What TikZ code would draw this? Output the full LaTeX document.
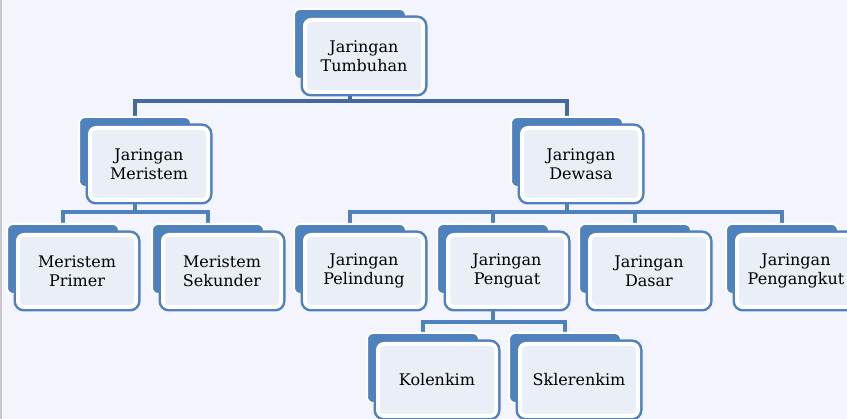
\documentclass[tikz,border=0pt]{standalone}
\usepackage{fontspec}
\setmainfont{DejaVu Serif}
\pgfdeclarelayer{background}
\pgfsetlayers{background,main}
\definecolor{bgc}{HTML}{F3F4FD}
\definecolor{blu}{HTML}{4F81BD}
\definecolor{dblu}{HTML}{44699E}
\definecolor{lfill}{HTML}{E9EEF7}
\definecolor{edge}{HTML}{C8C8CC}
\tikzset{
  backbox/.style={rectangle, rounded corners=6pt, minimum width=112pt, minimum height=70pt,
    fill=blu, draw=white, line width=2pt, inner sep=0pt},
  frontbox/.style={rectangle, rounded corners=6pt, minimum width=118pt, minimum height=72pt,
    fill=lfill, draw=white, line width=4pt, preaction={draw=blu, line width=9pt},
    align=center, inner sep=0pt, font=\fontsize{16pt}{19.5pt}\selectfont, text=black},
  conn/.style={draw=blu, line width=3.8pt},
  topconn/.style={draw=dblu, line width=3.8pt},
}
\newcommand{\twobox}[4]{%
  \node[backbox] (#1b) at (#2,#3) {};
  \node[frontbox] (#1) at ([xshift=14pt,yshift=-12pt]#1b.center) {#4};
}
\begin{document}
\begin{tikzpicture}[x=1pt,y=-1pt]
\begin{pgfonlayer}{background}
\fill[bgc] (0,0) rectangle (847,419);
\fill[edge] (0,0) rectangle (1.5,419);
\end{pgfonlayer}
\useasboundingbox (0,0) rectangle (847,419);
\twobox{top}{350}{44}{Jaringan\\Tumbuhan}
\twobox{mer}{135}{152}{Jaringan\\Meristem}
\twobox{dew}{567}{152}{Jaringan\\Dewasa}
\twobox{prim}{63}{259}{Meristem\\Primer}
\twobox{sek}{208}{259}{Meristem\\Sekunder}
\twobox{pel}{350}{259}{Jaringan\\Pelindung}
\twobox{pen}{493}{259}{Jaringan\\Penguat}
\twobox{das}{635}{259}{Jaringan\\Dasar}
\twobox{ang}{782}{259}{Jaringan\\Pengangkut}
\twobox{kol}{423}{368}{Kolenkim}
\twobox{skl}{565}{368}{Sklerenkim}
\begin{pgfonlayer}{background}
\coordinate (bus1) at (0,101);
\coordinate (bus2) at (0,212);
\coordinate (bus3) at (0,322);
\foreach \c in {mer,dew}
  \draw[topconn] (topb.center) -- (topb.center |- bus1) -| (\c b.center);
\foreach \c in {prim,sek}
  \draw[conn] (merb.center) -- (merb.center |- bus2) -| (\c b.center);
\foreach \c in {pel,pen,das,ang}
  \draw[conn] (dewb.center) -- (dewb.center |- bus2) -| (\c b.center);
\foreach \c in {kol,skl}
  \draw[conn] (penb.center) -- (penb.center |- bus3) -| (\c b.center);
\end{pgfonlayer}
\end{tikzpicture}
\end{document}
